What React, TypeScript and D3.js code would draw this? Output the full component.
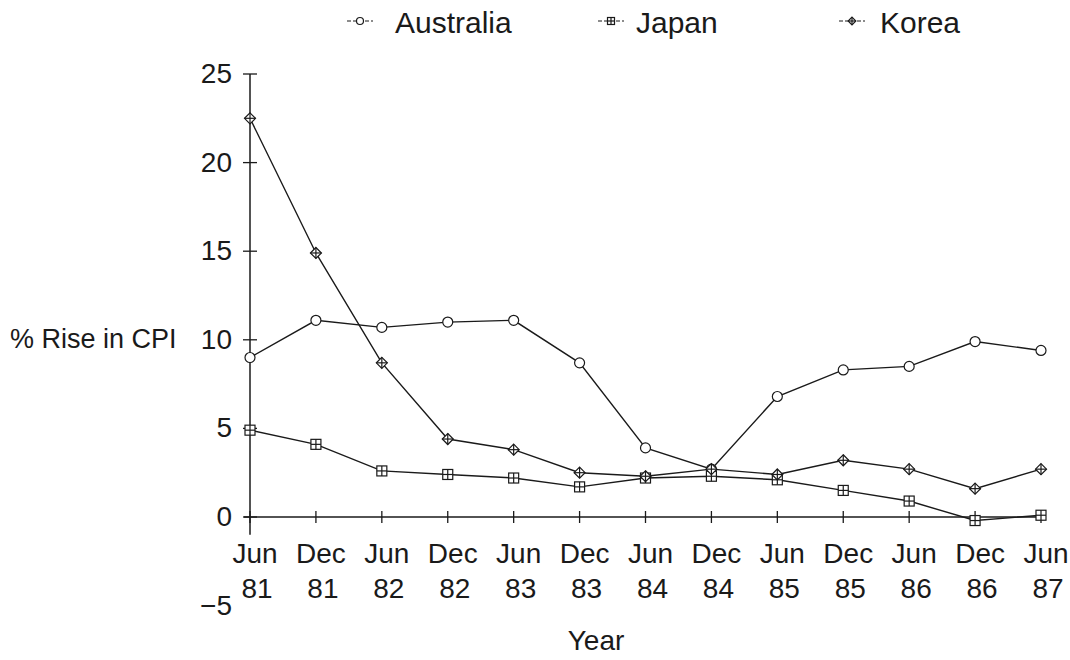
import React from "react";
import * as d3 from "d3";

const categories = ["Jun 81","Dec 81","Jun 82","Dec 82","Jun 83","Dec 83","Jun 84","Dec 84","Jun 85","Dec 85","Jun 86","Dec 86","Jun 87"];
const australia = [9.0, 11.1, 10.7, 11.0, 11.1, 8.7, 3.9, 2.7, 6.8, 8.3, 8.5, 9.9, 9.4];
const japan = [4.9, 4.1, 2.6, 2.4, 2.2, 1.7, 2.2, 2.3, 2.1, 1.5, 0.9, -0.2, 0.1];
const korea = [22.5, 14.9, 8.7, 4.4, 3.8, 2.5, 2.3, 2.7, 2.4, 3.2, 2.7, 1.6, 2.7];
const yTicks = [-5, 0, 5, 10, 15, 20, 25];
const seriesNames = ["Australia", "Japan", "Korea"];

const FONT = "'Liberation Sans', Arial, sans-serif";
const INK = "#1a1a1a";

function Marker({ kind, x, y, s = 1 }: { kind: string; x: number; y: number; s?: number }) {
  const sw = 1.2;
  if (kind === "Australia") {
    return <circle cx={x} cy={y} r={5 * s} fill="white" stroke={INK} strokeWidth={sw} />;
  }
  if (kind === "Japan") {
    const h = 5 * s;
    return (
      <g stroke={INK} strokeWidth={sw} fill="white">
        <rect x={x - h} y={y - h} width={2 * h} height={2 * h} />
        <line x1={x - h} y1={y} x2={x + h} y2={y} />
        <line x1={x} y1={y - h} x2={x} y2={y + h} />
      </g>
    );
  }
  const h = 5.5 * s;
  return (
    <g stroke={INK} strokeWidth={sw} fill="white">
      <path d={`M${x},${y - h}L${x + h},${y}L${x},${y + h}L${x - h},${y}Z`} />
      <line x1={x - h} y1={y} x2={x + h} y2={y} />
      <line x1={x} y1={y - h} x2={x} y2={y + h} />
    </g>
  );
}

export default function App() {
  const x = d3.scalePoint<string>().domain(categories).range([250, 1041]);
  const y = d3.scaleLinear().domain([-5, 25]).range([605.6, 74]);
  const series = [
    { name: "Australia", values: australia },
    { name: "Japan", values: japan },
    { name: "Korea", values: korea },
  ];
  const line = d3
    .line<number>()
    .x((_, i) => x(categories[i]) as number)
    .y((d) => y(d));

  const legendMarkerX = [360, 611, 852];
  const legendTextX = [395, 636, 880];
  const x0 = x(categories[0]) as number;
  const xEnd = x(categories[categories.length - 1]) as number;

  return (
    <svg
      width={1070}
      height={660}
      style={{ position: "absolute", left: 0, top: 0, background: "white" }}
      fontFamily={FONT}
    >
      <rect width={1070} height={660} fill="white" />
      {/* Legend */}
      {seriesNames.map((n, i) => (
        <g key={n}>
          <line x1={legendMarkerX[i] - 13} x2={legendMarkerX[i] + 13} y1={21} y2={21} stroke={INK} strokeWidth={1.2} strokeDasharray="4,2" />
          <Marker kind={n} x={legendMarkerX[i]} y={21} s={0.7} />
          <text x={legendTextX[i]} y={33} fontSize={30} fill={INK}>{n}</text>
        </g>
      ))}

      {/* Y axis */}
      <line x1={x0} x2={x0} y1={y(25)} y2={y(-1)} stroke={INK} strokeWidth={1.5} />
      {yTicks.filter((t) => t >= 0).map((t) => (
        <line key={t} x1={x0 - 7} x2={x0 + 7} y1={y(t)} y2={y(t)} stroke={INK} strokeWidth={1.3} />
      ))}
      {yTicks.map((t) => (
        <text key={t} x={232} y={y(t) + 9} fontSize={28} textAnchor="end" fill={INK}>
          {t < 0 ? "\u2212" + Math.abs(t) : t}
        </text>
      ))}
      <text x={10} y={348} fontSize={27} fill={INK}>% Rise in CPI</text>

      {/* X axis */}
      <line x1={x0 - 6} x2={xEnd} y1={y(0)} y2={y(0)} stroke={INK} strokeWidth={1.5} />
      {categories.map((c) => (
        <line key={c} x1={x(c)} x2={x(c)} y1={y(0) - 6} y2={y(0) + 6} stroke={INK} strokeWidth={1.3} />
      ))}
      {categories.map((c) => {
        const [m, yr] = c.split(" ");
        const cx = (x(c) as number) + 5;
        return (
          <g key={c}>
            <text x={cx} y={563} fontSize={28} textAnchor="middle" fill={INK}>{m}</text>
            <text x={cx + 2} y={598} fontSize={28} textAnchor="middle" fill={INK}>{yr}</text>
          </g>
        );
      })}
      <text x={596} y={650} fontSize={28} textAnchor="middle" fill={INK}>Year</text>

      {/* Series */}
      {series.map((s) => (
        <g key={s.name}>
          <path d={line(s.values) || ""} fill="none" stroke={INK} strokeWidth={1.4} />
          {s.values.map((v, i) => (
            <Marker key={i} kind={s.name} x={x(categories[i]) as number} y={y(v)} />
          ))}
        </g>
      ))}
    </svg>
  );
}
